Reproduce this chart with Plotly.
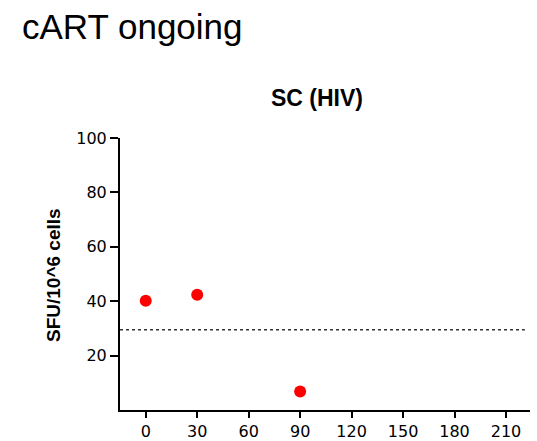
import plotly.graph_objects as go

# Days since start of cART and measured responses
days = [0, 30, 90]
sfu = [40.2, 42.4, 6.8]

# Positivity cutoff drawn as a dotted reference line
cutoff = 29.5
cutoff_span = [-15, 221]

x_ticks = [0, 30, 60, 90, 120, 150, 180, 210]
y_ticks = [20, 40, 60, 80, 100]

TOP, BOTTOM, LEFT, RIGHT = 138, 31, 120, 7
plot_h = 441 - TOP - BOTTOM
plot_w = 537 - LEFT - RIGHT

fig = go.Figure()

fig.add_trace(go.Scatter(
    x=cutoff_span, y=[cutoff, cutoff], mode="lines",
    line=dict(color="#333333", width=1.5, dash="dot"),
    hoverinfo="skip", showlegend=False,
))

fig.add_trace(go.Scatter(
    x=days, y=sfu, mode="markers",
    marker=dict(color="#ff0000", size=12, symbol="circle"),
    showlegend=False,
))

fig.update_layout(
    width=537, height=441,
    margin=dict(l=LEFT, r=RIGHT, t=TOP, b=BOTTOM),
    plot_bgcolor="white", paper_bgcolor="white",
    font=dict(family="Liberation Sans, Arial, sans-serif", color="black"),
    title=dict(
        text="<b>SC (HIV)</b>", x=317 / 537, xanchor="center",
        y=1 - 98 / 441, yanchor="middle",
        font=dict(size=23, family="Liberation Sans, Arial, sans-serif"),
    ),
    annotations=[
        dict(
            text="cART ongoing", xref="paper", yref="paper",
            x=(20 - LEFT) / plot_w, xanchor="left",
            y=1 + (TOP - 27) / plot_h, yanchor="middle",
            showarrow=False,
            font=dict(size=35, family="Liberation Sans, Arial, sans-serif"),
        ),
        dict(
            text="<b>SFU/10^6 cells</b>", xref="paper", yref="paper",
            x=(53 - LEFT) / plot_w, xanchor="center",
            y=(441 - BOTTOM - 275) / plot_h, yanchor="middle",
            textangle=-90, showarrow=False,
            font=dict(size=19, family="Liberation Sans, Arial, sans-serif"),
        ),
    ],
)

fig.update_xaxes(
    range=[-15, 224], tickvals=x_ticks, ticktext=[str(v) for v in x_ticks],
    showline=True, linecolor="black", linewidth=2,
    ticks="outside", ticklen=6, tickwidth=2, tickcolor="black",
    showgrid=False, zeroline=False, automargin=False,
    tickfont=dict(size=16, family="DejaVu Sans, sans-serif"),
)
fig.update_yaxes(
    range=[0, 100], tickvals=y_ticks,
    showline=True, linecolor="black", linewidth=2,
    ticks="outside", ticklen=8, tickwidth=2, tickcolor="black",
    showgrid=False, zeroline=False, automargin=False,
    tickfont=dict(size=16, family="DejaVu Sans, sans-serif"),
)

fig.write_html("out.html")
